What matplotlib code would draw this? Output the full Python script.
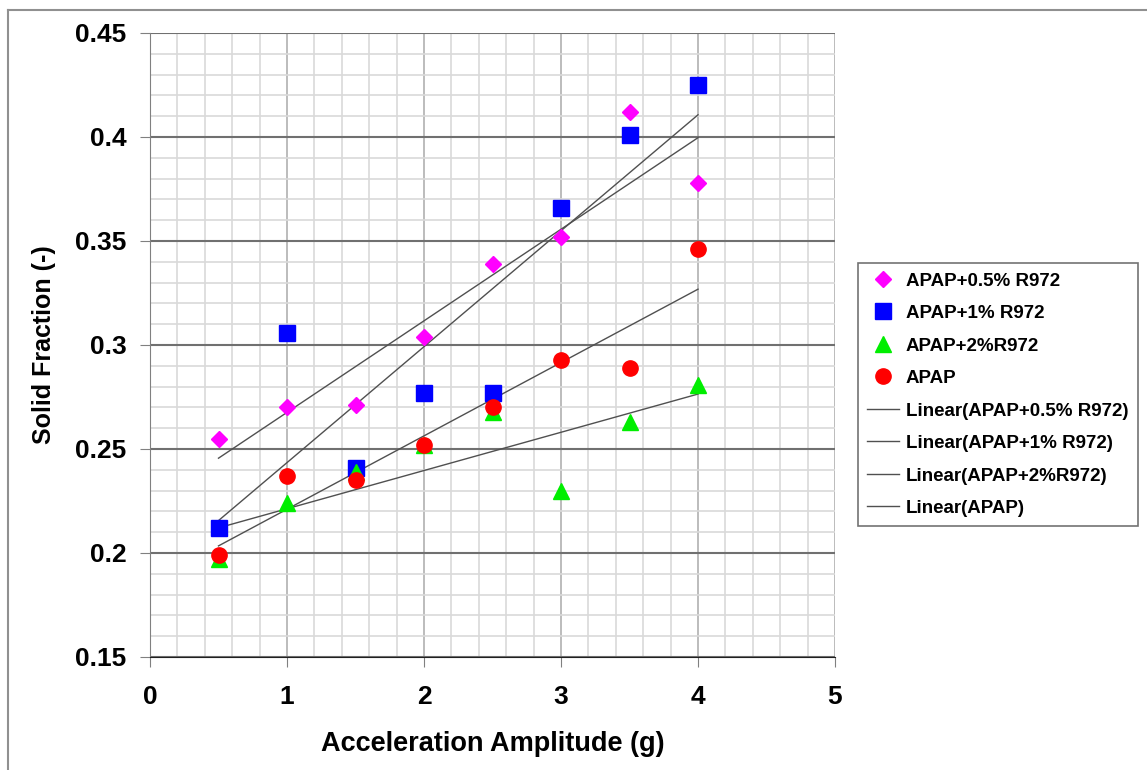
import matplotlib
matplotlib.use('agg')
import matplotlib.pyplot as plt
from matplotlib.ticker import MultipleLocator
from matplotlib.lines import Line2D
import numpy as np

plt.rcParams['font.family'] = ['Liberation Sans', 'DejaVu Sans']
plt.rcParams['font.weight'] = 'bold'

accel = [0.5, 1.0, 1.5, 2.0, 2.5, 3.0, 3.5, 4.0]
apap_05 = [0.255, 0.270, 0.271, 0.304, 0.339, 0.352, 0.412, 0.378]
apap_1 = [0.212, 0.306, 0.241, 0.277, 0.277, 0.366, 0.401, 0.425]
apap_2 = [0.197, 0.224, 0.239, 0.252, 0.268, 0.230, 0.263, 0.281]
apap = [0.199, 0.237, 0.235, 0.252, 0.270, 0.293, 0.289, 0.346]

series = [
    ('APAP+0.5% R972', apap_05, '#FF00FF', 'D', 8),
    ('APAP+1% R972', apap_1, '#0000FF', 's', 11),
    ('APAP+2%R972', apap_2, '#00EE00', '^', 11),
    ('APAP', apap, '#FF0000', 'o', 11),
]

fig = plt.figure(figsize=(11.47, 7.7), dpi=100)
ax = fig.add_axes([150/1147, 1-657/770, 685/1147, 624/770])

# frame lines around the chart area
fig.add_artist(Line2D([8/1147, 8/1147], [0, 1-10/770], color='#909090', lw=1.5))
fig.add_artist(Line2D([8/1147, 1], [1-10/770, 1-10/770], color='#909090', lw=1.5))

ax.set_xlim(0, 5)
ax.set_ylim(0.15, 0.45)
ax.xaxis.set_major_locator(MultipleLocator(1))
ax.xaxis.set_minor_locator(MultipleLocator(0.2))
ax.yaxis.set_major_locator(MultipleLocator(0.05))
ax.yaxis.set_minor_locator(MultipleLocator(0.01))

ax.grid(which='minor', color='#d9d9d9', lw=1.2)
ax.grid(which='major', axis='x', color='#b0b0b0', lw=1.2)
ax.grid(which='major', axis='y', color='#707070', lw=1.5)
ax.set_axisbelow(True)

for s in ['top', 'right']:
    ax.spines[s].set_visible(False)
ax.spines['left'].set_color('#808080')
ax.spines['bottom'].set_color('#202020')

ax.tick_params(which='major', direction='out', length=7, color='#808080',
               labelsize=19, pad=10)
ax.tick_params(which='minor', length=0)
ax.set_yticks([0.15, 0.2, 0.25, 0.3, 0.35, 0.4, 0.45])
ax.set_yticklabels(['0.15', '0.2', '0.25', '0.3', '0.35', '0.4', '0.45'])
ax.tick_params(axis='x', pad=13)

x = np.array(accel)
for name, ys, col, mk, ms in series:
    ax.plot(accel, ys, linestyle='none', marker=mk, color=col, markersize=ms,
            label=name, zorder=3)

for name, ys, col, mk, ms in series:
    k, b = np.polyfit(x, ys, 1)
    ax.plot([x.min(), x.max()], [k*x.min()+b, k*x.max()+b], color='#505050',
            lw=1, label='Linear(' + name + ')', zorder=2)

ax.set_xlabel('Acceleration Amplitude (g)', fontsize=19.5, fontweight='bold', labelpad=16)
ax.set_ylabel('Solid Fraction (-)', fontsize=18, fontweight='bold', labelpad=14)

leg = ax.legend(loc='upper left', bbox_to_anchor=(858/1147, 1-263/770),
                bbox_transform=fig.transFigure, fontsize=13.5, frameon=True,
                fancybox=False, edgecolor='#505050', handlelength=1.7,
                handletextpad=0.35, labelspacing=0.82, borderpad=0.5,
                borderaxespad=0)
leg.get_frame().set_linewidth(1.2)

fig.savefig('out.png', dpi=100)
